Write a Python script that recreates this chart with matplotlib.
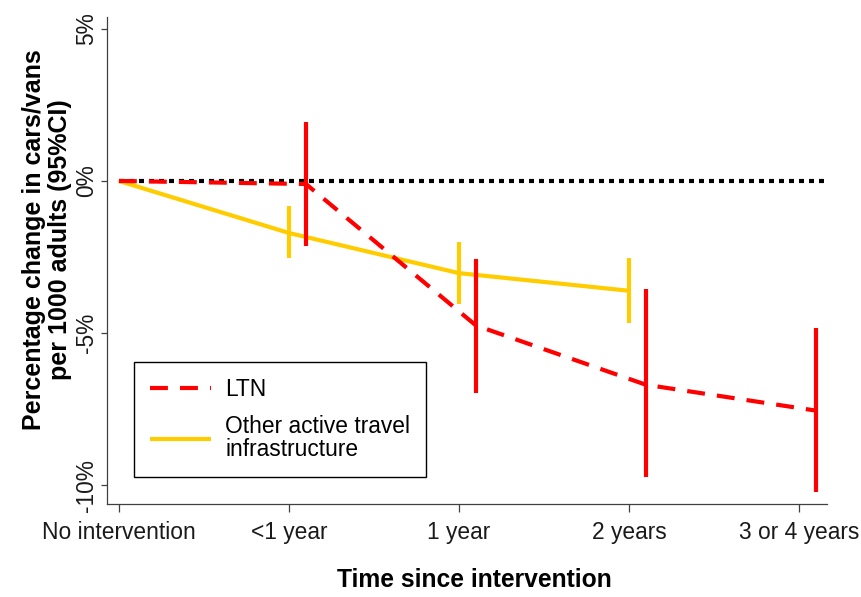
import numpy as np
import matplotlib.pyplot as plt

plt.rcParams['font.family'] = ['Liberation Sans', 'DejaVu Sans']

categories = ['No intervention', '<1 year', '1 year', '2 years', '3 or 4 years']

# LTN estimates and 95% CI (percentage change)
ltn_est = [0.0, -0.1, -4.75, -6.7, -7.55]
ltn_lo = [np.nan, -2.13, -6.97, -9.73, -10.22]
ltn_hi = [np.nan, 1.95, -2.57, -3.55, -4.84]

# other active travel infrastructure
other_est = [0.0, -1.71, -3.03, -3.61]
other_lo = [np.nan, -2.53, -4.05, -4.67]
other_hi = [np.nan, -0.82, -2.0, -2.53]

RED = '#FF0000'
YEL = '#FFCC00'

fig = plt.figure(figsize=(8.61, 5.97), dpi=100)
ax = fig.add_axes([107/861, (597-504)/597, (827-107)/861, (504-17)/597])

x_other = np.arange(len(other_est))
x_ltn = np.array([0] + [i + 0.1 for i in range(1, len(ltn_est))])

# reference line at zero
ax.hlines(0, 0, 4.2, colors='black', lw=3, linestyles=(0, (1.2, 1.2)), zorder=1)

ax.plot(x_other, other_est, color=YEL, lw=3, solid_capstyle='butt', zorder=2,
        label='Other active travel\ninfrastructure')
ax.vlines(x_other[1:], other_lo[1:], other_hi[1:], colors=YEL, lw=3, zorder=2)

ax.plot(x_ltn, ltn_est, color=RED, lw=3, ls=(0, (4.3, 2.9)), dash_capstyle='butt',
        zorder=3, label='LTN')
ax.vlines(x_ltn[1:], ltn_lo[1:], ltn_hi[1:], colors=RED, lw=3, zorder=3)

ax.set_xlim(-0.07, 4.165)
ax.set_ylim(-10.62, 5.39)

ax.set_xticks(range(len(categories)))
ax.set_xticklabels(categories, fontsize=16.4, color='#1a1a1a')
ax.set_yticks([5, 0, -5, -10])
ax.set_yticklabels(['5%', '0%', '-5%', '-10%'], fontsize=16.4, color='#1a1a1a',
                   rotation=90, va='center')
ax.tick_params(axis='x', length=6, width=0.9, pad=6, color='#404040')
ax.tick_params(axis='y', length=4.5, width=0.9, pad=2, color='#404040')

for s in ['top', 'right']:
    ax.spines[s].set_visible(False)
for s in ['left', 'bottom']:
    ax.spines[s].set_color('#404040')
    ax.spines[s].set_linewidth(0.9)

h, l = ax.get_legend_handles_labels()
leg = ax.legend([h[1], h[0]], [l[1], l[0]], loc='upper left',
                bbox_to_anchor=((134-107)/720, (504-362)/487), borderaxespad=0,
                frameon=True, fancybox=False, edgecolor='black', framealpha=1,
                fontsize=16.4, handlelength=2.7, handletextpad=0.6,
                borderpad=0.7, labelspacing=0.6)
leg.get_frame().set_linewidth(1.0)
for t in leg.get_texts():
    t.set_linespacing(1.0)

fig.text(47/861, 1-240/597, 'Percentage change in cars/vans\nper 1000 adults (95%CI)',
         rotation=90, ha='center', va='center', fontsize=18, fontweight='bold',
         linespacing=1.1)
fig.text(474/861, 1-580/597, 'Time since intervention', ha='center', va='center',
         fontsize=17.7, fontweight='bold')

fig.savefig('out.png', dpi=100)
